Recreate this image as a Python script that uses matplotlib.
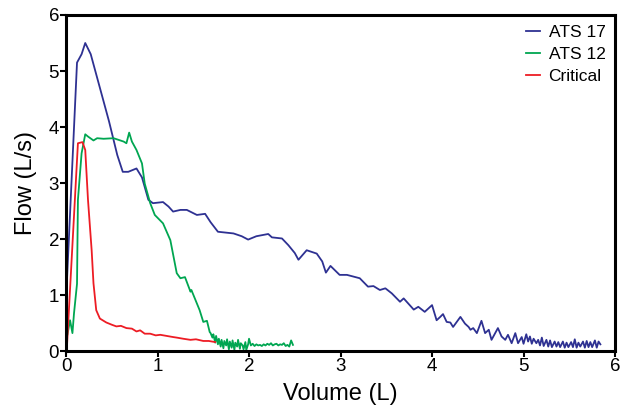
import numpy as np
import matplotlib
matplotlib.use("Agg")
import matplotlib.pyplot as plt

plt.rcParams['font.family'] = ['Liberation Sans', 'DejaVu Sans']

# ATS 17 curve (volume in L, flow in L/s)
ats17_vol = [0.0, 0.12, 0.17, 0.21, 0.27, 0.37, 0.47, 0.56, 0.62, 0.68,
             0.77, 0.83, 0.90, 0.95, 1.06, 1.12, 1.17, 1.25, 1.32, 1.43, 1.52, 1.58,
             1.66, 1.83, 1.92, 1.99, 2.08, 2.21, 2.25, 2.36, 2.43, 2.50, 2.54, 2.63,
             2.74, 2.80, 2.84, 2.89, 2.99, 3.07, 3.21, 3.30, 3.36, 3.43, 3.49, 3.56,
             3.65, 3.69, 3.80, 3.85, 3.92, 4.00, 4.05, 4.09, 4.12, 4.16, 4.20, 4.23,
             4.27, 4.31, 4.36, 4.40, 4.42, 4.45, 4.49, 4.54, 4.58, 4.62, 4.65, 4.69,
             4.72, 4.76, 4.80, 4.83, 4.87, 4.91, 4.94,
             4.98, 5.00, 5.03, 5.05, 5.07, 5.09, 5.11, 5.14, 5.16, 5.18, 5.20, 5.22,
             5.25, 5.27, 5.29, 5.31, 5.34, 5.36, 5.38, 5.40, 5.43, 5.45, 5.47, 5.49,
             5.52, 5.54, 5.56, 5.58, 5.60, 5.62, 5.65, 5.67, 5.69, 5.71, 5.73, 5.75,
             5.78, 5.80, 5.82, 5.84]
ats17_flow = [0.9, 5.15, 5.3, 5.5, 5.3, 4.7, 4.1, 3.5, 3.2, 3.2,
              3.26, 3.1, 2.7, 2.64, 2.66, 2.58, 2.49, 2.52, 2.52, 2.43, 2.45, 2.3,
              2.13, 2.1, 2.05, 1.99, 2.05, 2.09, 2.03, 2.01, 1.89, 1.75, 1.63, 1.8,
              1.74, 1.6, 1.40, 1.52, 1.36, 1.36, 1.30, 1.15, 1.16, 1.09, 1.12, 1.03,
              0.88, 0.94, 0.74, 0.79, 0.70, 0.82, 0.55, 0.61, 0.66, 0.52, 0.51, 0.43,
              0.52, 0.61, 0.49, 0.43, 0.38, 0.41, 0.32, 0.54, 0.32, 0.38, 0.20, 0.32,
              0.41, 0.26, 0.20, 0.29, 0.14, 0.32, 0.14,
              0.25, 0.13, 0.30, 0.17, 0.26, 0.13, 0.22, 0.14, 0.20, 0.10, 0.24, 0.09,
              0.20, 0.08, 0.19, 0.07, 0.17, 0.08, 0.16, 0.07, 0.17, 0.06, 0.15, 0.07,
              0.16, 0.07, 0.21, 0.06, 0.15, 0.08, 0.17, 0.06, 0.18, 0.07, 0.16, 0.07,
              0.19, 0.06, 0.17, 0.12]

# ATS 12 curve
ats12_vol = [0.0, 0.015, 0.044, 0.07, 0.087, 0.12, 0.13, 0.17, 0.21, 0.24, 0.30, 0.34,
             0.41, 0.52, 0.63, 0.66, 0.69, 0.72, 0.77, 0.83, 0.86, 0.92, 0.97, 1.06,
             1.14, 1.21, 1.25, 1.30, 1.36, 1.37, 1.46, 1.50, 1.54, 1.57,
             1.58, 1.60, 1.61, 1.63, 1.64, 1.66, 1.67, 1.69, 1.70, 1.72, 1.73, 1.75,
             1.76, 1.78, 1.79, 1.81, 1.82, 1.84, 1.85, 1.87, 1.88, 1.90, 1.91, 1.93,
             1.94, 1.96, 1.97, 1.99, 2.00,
             2.02, 2.04, 2.06, 2.08, 2.10, 2.12, 2.14, 2.16, 2.18, 2.20, 2.22, 2.24,
             2.26, 2.28, 2.30, 2.32, 2.34, 2.36, 2.38, 2.40, 2.42, 2.44, 2.46, 2.48]
ats12_flow = [0.25, 0.29, 0.55, 0.32, 0.67, 1.2, 2.7, 3.53, 3.87, 3.83, 3.76, 3.80,
              3.79, 3.80, 3.74, 3.71, 3.90, 3.74, 3.59, 3.35, 2.99, 2.64, 2.43, 2.28,
              1.98, 1.39, 1.30, 1.32, 1.06, 1.09, 0.73, 0.52, 0.54, 0.34,
              0.32, 0.24, 0.30, 0.15, 0.27, 0.12, 0.22, 0.08, 0.20, 0.05, 0.18, 0.10,
              0.21, 0.03, 0.17, 0.06, 0.19, 0.02, 0.15, 0.08, 0.20, 0.04, 0.14, 0.10,
              0.03, 0.16, 0.02, 0.12, 0.22,
              0.10, 0.13, 0.09, 0.12, 0.10, 0.11, 0.09, 0.12, 0.10, 0.13, 0.11, 0.14,
              0.10, 0.12, 0.13, 0.10, 0.12, 0.11, 0.14, 0.09, 0.11, 0.08, 0.19, 0.11]

# Critical curve
crit_vol = [0.01, 0.13, 0.18, 0.21, 0.24, 0.28, 0.30, 0.33, 0.37, 0.44, 0.50, 0.55,
            0.60, 0.66, 0.72, 0.77, 0.81, 0.86, 0.92, 0.98, 1.03, 1.10, 1.17, 1.21,
            1.28, 1.36, 1.42, 1.50, 1.56, 1.63]
crit_flow = [0.08, 3.71, 3.73, 3.59, 2.7, 1.8, 1.21, 0.73, 0.58, 0.51, 0.47, 0.44,
             0.45, 0.41, 0.40, 0.35, 0.37, 0.31, 0.31, 0.28, 0.29, 0.27, 0.25, 0.24,
             0.22, 0.20, 0.21, 0.18, 0.18, 0.16]

fig = plt.figure(figsize=(6.2, 4.13), dpi=100)
ax = fig.add_axes([0.1065, 0.150, 0.8855, 0.8137])

ax.plot(ats17_vol, ats17_flow, color='#2e3192', lw=1.3, label='ATS 17')
ax.plot(ats12_vol, ats12_flow, color='#00a651', lw=1.3, label='ATS 12')
ax.plot(crit_vol, crit_flow, color='#ed1c24', lw=1.3, label='Critical')

ax.set_xlim(0, 6)
ax.set_ylim(0, 6)
ax.set_xticks(range(7))
ax.set_yticks(range(7))
for s in ax.spines.values():
    s.set_linewidth(2.2)
ax.tick_params(direction='out', length=4, width=1.5, labelsize=13.5, pad=1)

ax.set_xlabel('Volume (L)', fontsize=17, labelpad=6)
ax.set_ylabel('Flow (L/s)', fontsize=17, labelpad=8)

ax.legend(loc='upper right', frameon=False, fontsize=12.5, handlelength=0.8,
          handletextpad=0.5, labelspacing=0.4, borderaxespad=0.15)

fig.savefig('out.png', dpi=100)
